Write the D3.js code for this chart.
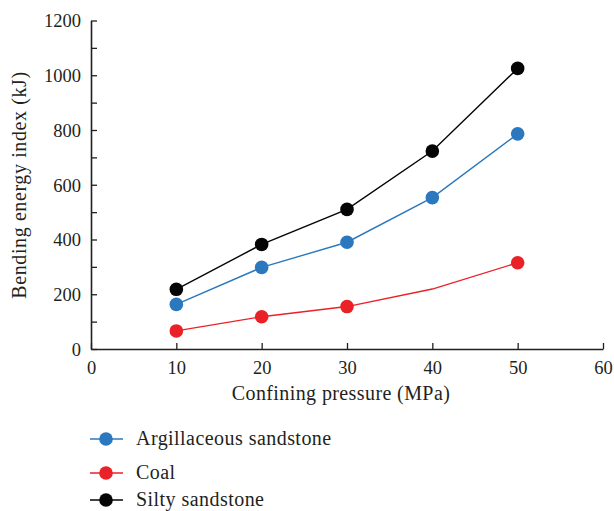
<!DOCTYPE html>
<html>
<head>
<meta charset="utf-8">
<script src="https://cdn.jsdelivr.net/npm/d3@7"></script>
<style>
    body { margin: 0; background: #fff; }
    text { font-family: "Liberation Serif", "DejaVu Serif", serif; fill: #231f20; }
</style>
</head>
<body>
<script>
// confining pressure (MPa)
const pressures = [10, 20, 30, 40, 50];
// bending energy index (kJ)
const argillaceous = [163, 298, 390, 553, 786];
const coal = [66, 118, 155, 219, 315];
const silty = [218, 382, 510, 723, 1025];
// coal has no marker at 40 MPa in the original
const coalMarked = [true, true, true, false, true];

const seriesNames = ["Argillaceous sandstone", "Coal", "Silty sandstone"];
const seriesColors = ["#2b78be", "#ea2227", "#050505"];

const xTicks = [0, 10, 20, 30, 40, 50, 60];
const yTicks = [0, 100, 200, 300, 400, 500, 600, 700, 800, 900, 1000, 1100, 1200];

let wSvg = 614;
let hSvg = 511;

let svg = d3.select("body")
    .append("svg")
    .attr("width", wSvg)
    .attr("height", hSvg);

let x = d3.scaleLinear().domain([0, 60]).range([91, 603]);
let y = d3.scaleLinear().domain([0, 1200]).range([349, 20.5]);

// axes
let xAxis = svg.append("g")
    .attr("transform", `translate(0,${y(0)})`)
    .call(d3.axisBottom(x).tickValues(xTicks).tickSizeInner(-6).tickSizeOuter(0).tickPadding(12));

let yAxis = svg.append("g")
    .attr("transform", `translate(${x(0)},0)`)
    .call(d3.axisLeft(y).tickValues(yTicks).tickSizeInner(-6).tickSizeOuter(0).tickPadding(10)
        .tickFormat((d) => d % 200 === 0 ? d : ""));

[xAxis, yAxis].forEach((a) => {
    a.select(".domain").attr("stroke", "#231f20").attr("stroke-width", 1.6);
    a.selectAll(".tick line").attr("stroke", "#231f20").attr("stroke-width", 1.3);
    a.selectAll(".tick text")
        .attr("fill", "#231f20")
        .style("font-family", '"Liberation Serif", serif')
        .style("font-size", "18.5px");
});
yAxis.selectAll(".tick text").attr("dy", "0.35em");

// axis titles
svg.append("text")
    .attr("x", 341)
    .attr("y", 400)
    .attr("text-anchor", "middle")
    .style("font-size", "20px")
    .style("letter-spacing", "0.4px")
    .text("Confining pressure (MPa)");

svg.append("text")
    .attr("transform", `translate(26,185) rotate(-90)`)
    .attr("text-anchor", "middle")
    .style("font-size", "20px")
    .style("letter-spacing", "0.6px")
    .text("Bending energy index (kJ)");

// series
const allSeries = [
    { name: seriesNames[0], color: seriesColors[0], values: argillaceous, marked: pressures.map(() => true) },
    { name: seriesNames[1], color: seriesColors[1], values: coal, marked: coalMarked },
    { name: seriesNames[2], color: seriesColors[2], values: silty, marked: pressures.map(() => true) }
];

let line = d3.line()
    .x((d) => x(d[0]))
    .y((d) => y(d[1]));

allSeries.forEach((s) => {
    let pts = pressures.map((p, i) => [p, s.values[i], s.marked[i]]);
    svg.append("path")
        .datum(pts)
        .attr("d", line)
        .attr("fill", "none")
        .attr("stroke", s.color)
        .attr("stroke-width", 1.4);
    svg.append("g")
        .selectAll("circle")
        .data(pts.filter((d) => d[2]))
        .enter()
        .append("circle")
        .attr("cx", (d) => x(d[0]))
        .attr("cy", (d) => y(d[1]))
        .attr("r", 6.8)
        .attr("fill", s.color);
});

// legend
let legendY = [439, 473, 500];
let legend = svg.append("g")
    .selectAll("g")
    .data(allSeries)
    .enter()
    .append("g")
    .attr("transform", (d, i) => `translate(0,${legendY[i]})`);

legend.append("line")
    .attr("x1", 90).attr("x2", 123)
    .attr("stroke", (d) => d.color)
    .attr("stroke-width", 1.4);
legend.append("circle")
    .attr("cx", 106)
    .attr("r", 6.8)
    .attr("fill", (d) => d.color);
legend.append("text")
    .attr("x", 136)
    .attr("dy", "0.32em")
    .style("font-size", "20px")
    .style("letter-spacing", "0.45px")
    .text((d) => d.name);
</script>
</body>
</html>
